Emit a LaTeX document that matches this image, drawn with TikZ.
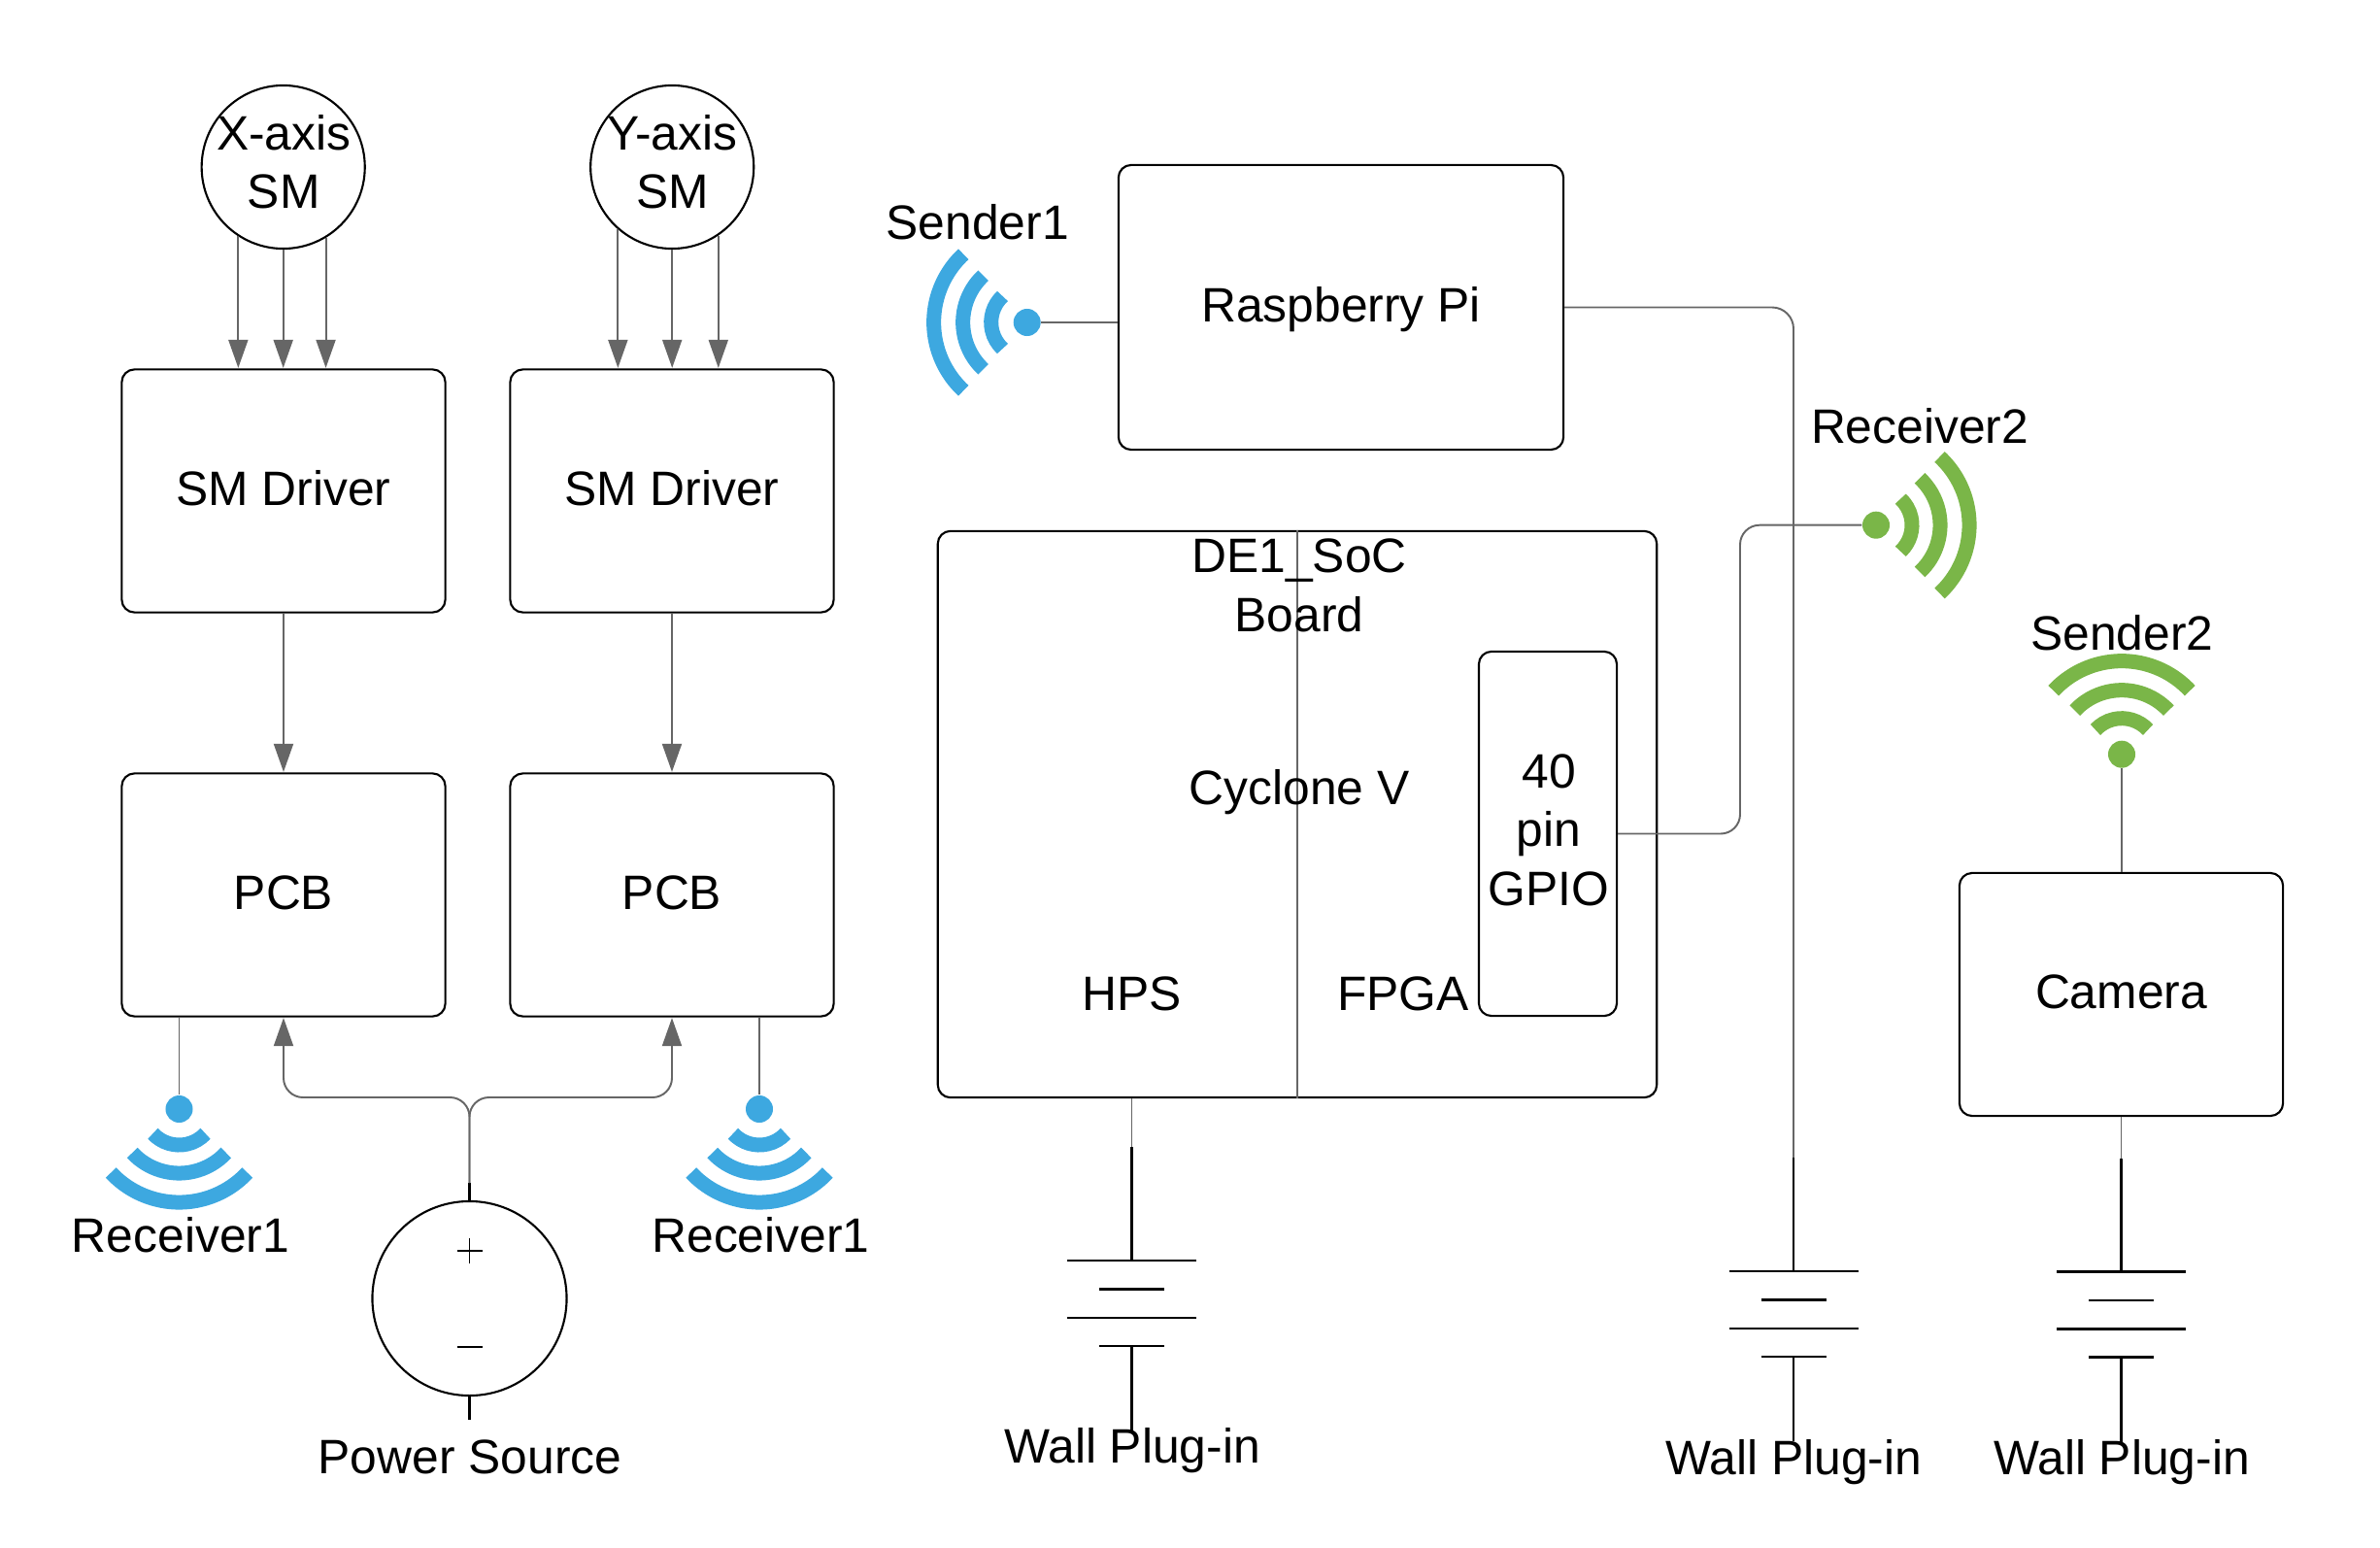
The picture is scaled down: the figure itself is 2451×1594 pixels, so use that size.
\documentclass[tikz,border=0pt]{standalone}
\usepackage{fontspec}
\setmainfont{Liberation Sans}
\usetikzlibrary{arrows.meta,positioning,calc}
\definecolor{wiregray}{HTML}{666666}
\definecolor{wifiblue}{HTML}{3DA8E0}
\definecolor{wifigreen}{HTML}{7AB648}

\begin{document}
\begin{tikzpicture}[x=0.01cm, y=-0.01cm,
    lbl/.style={font=\fontsize{14.15}{17.07}\selectfont, inner sep=0pt, anchor=base, align=center},
    box/.style={rectangle, draw=black, line width=0.6pt, rounded corners=0.13cm, minimum width=3.33cm, minimum height=2.5cm, inner sep=0pt, text height=0.29cm, text depth=0pt, font=\fontsize{14.15}{17.07}\selectfont},
    motor/.style={circle, draw=black, line width=0.6pt, minimum size=1.68cm, inner sep=0pt},
    wifidot/.style={circle, minimum size=0.28cm, inner sep=0pt},
    wire/.style={draw=wiregray, line width=0.55pt},
    arrow/.style={wire, -{Triangle[length=0.29cm, width=0.2cm]}, fill=none, shorten >=0.005cm},
    lead/.style={draw=black, line width=0.6pt},
    plate/.style={draw=black, line width=0.6pt}
]
\useasboundingbox (0,0) rectangle (2451,1594);

% Stepper motors
\node[motor] (xsm) at (291.7,172) {};
\node[lbl] (xsmtext) at (292.3,215) {X-axis\\SM};
\node[motor] (ysm) at (692.2,172) {};
\node[lbl] (ysmtext) at (692.5,215) {Y-axis\\SM};

% Driver and PCB columns
\node[box] (drva) at (292,505.5) {SM Driver};
\node[box] (drvb) at (692,505.5) {SM Driver};
\node[box] (pcba) at (292,921.5) {PCB};
\node[box] (pcbb) at (692,921.5) {PCB};

% Motor to driver arrows
\draw[arrow] (xsm.237) -- (xsm.237 |- drva.north);
\draw[arrow] (xsm.south) -- (xsm.south |- drva.north);
\draw[arrow] (xsm.301) -- (xsm.301 |- drva.north);
\draw[arrow] (ysm.229.4) -- (ysm.229.4 |- drvb.north);
\draw[arrow] (ysm.south) -- (ysm.south |- drvb.north);
\draw[arrow] (ysm.304) -- (ysm.304 |- drvb.north);

\draw[arrow] (drva.south) -- (pcba.north);
\draw[arrow] (drvb.south) -- (pcbb.north);

% Right side boxes
\node[box, minimum width=4.58cm, minimum height=2.93cm] (rpi) at (1381,316.5) {Raspberry Pi};
\node[box] (cam) at (2184.5,1024) {Camera};
\node[box, minimum width=7.4cm, minimum height=5.83cm] (de1) at (1336,838.5) {};
\node[box, minimum width=1.42cm, minimum height=3.75cm] (gpio) at (1594,858.5) {};
\draw[wire] (de1.north) -- (de1.south);

% Board texts
\node[lbl] (de1text) at (1338,650) {DE1\_SoC\\Board};
\node[lbl] (cyclone) at (1338,828.5) {Cyclone V};
\node[lbl] (hps) at (1165.4,1040) {HPS};
\node[lbl] (fpga) at (1445,1040) {FPGA};
\node[lbl] (gpiotext) at (1595,932) {40\\pin\\GPIO};

% Wireless symbols
\foreach \n/\xd/\yd/\ang/\col in {rxa/184.5/1142/270/wifiblue, rxb/782/1142/270/wifiblue, txa/1057.7/332/180/wifiblue, rxc/1932/540.7/0/wifigreen, txb/2185/776.7/90/wifigreen} {
    \node[wifidot, fill=\col] (\n) at (\xd,\yd) {};
    \foreach \r in {0.37,0.66,0.96} {
        \draw[draw=\col, line width=0.15cm] ([shift={(\ang-47:\r cm)}]\n.center) arc[start angle=\ang-47, end angle=\ang+47, radius=\r cm];
    }
}
\node[lbl] (rxatext) at (186,1289.5) {Receiver1};
\node[lbl] (rxbtext) at (783.5,1289.5) {Receiver1};
\node[lbl] (txatext) at (1006.7,247) {Sender1};
\node[lbl] (rxctext) at (1977,456.5) {Receiver2};
\node[lbl] (txbtext) at (2185.5,669) {Sender2};

\draw[wire] (rxa.north |- pcba.south) -- (rxa.north);
\draw[wire] (rxb.north |- pcbb.south) -- (rxb.north);
\draw[wire] (txa.east) -- (txa.east -| rpi.west);
\draw[wire] (txb.south) -- (txb.south |- cam.north);
\coordinate (gpiobend) at (1792,540.7);
\draw[wire, rounded corners=0.2cm] (gpio.east) -| (gpiobend) -- (rxc.west);

% Power source
\node[circle, draw=black, line width=0.6pt, minimum size=2cm, inner sep=0pt] (ps) at (483.5,1337) {};
\node[lbl] (pstext) at (484,1517.5) {Power Source};
\coordinate (pstop) at (483.5,1218);
\coordinate (psbot) at (483.5,1462);
\coordinate (psfork) at (483.5,1130);
\draw[lead] (pstop) -- (ps.north);
\draw[lead] (ps.south) -- (psbot);
\draw[arrow, rounded corners=0.2cm] (pstop) -- (psfork) -| (pcba.south);
\draw[arrow, rounded corners=0.2cm] (pstop) -- (psfork) -| (pcbb.south);
\draw[line width=0.4pt] (470.5,1288) -- (496.5,1288) (483.5,1275) -- (483.5,1301);
\draw[line width=0.4pt] (470.5,1387) -- (496.5,1387);

% Wall plug-in batteries
\foreach \n/\xb/\yb/\yt in {a/1165.5/1298/1506, b/1847/1309/1518, c/2184.5/1309.5/1518} {
    \coordinate (bat\n) at (\xb,\yb);
    \coordinate (batend\n) at (\xb,\yb+175);
    \draw[plate] (\xb-66.5,\yb) -- (\xb+66.5,\yb);
    \draw[plate] (\xb-33.5,\yb+29.5) -- (\xb+33.5,\yb+29.5);
    \draw[plate] (\xb-66.5,\yb+59) -- (\xb+66.5,\yb+59);
    \draw[plate] (\xb-33.5,\yb+88) -- (\xb+33.5,\yb+88);
    \draw[lead] (\xb,\yb+88) -- (batend\n);
    \node[lbl] (plug\n) at (\xb+0.5,\yt) {Wall Plug-in};
}
\coordinate (hpsjoin) at (1165.5,1181);
\coordinate (rpijoin) at (1847,1192);
\coordinate (camjoin) at (2184.5,1193);
\draw[wire] (hpsjoin |- de1.south) -- (hpsjoin);
\draw[lead] (hpsjoin) -- (bata);
\draw[wire, rounded corners=0.22cm] (rpi.east) -| (rpijoin);
\draw[lead] (rpijoin) -- (batb);
\draw[wire] (camjoin |- cam.south) -- (camjoin);
\draw[lead] (camjoin) -- (batc);

\end{tikzpicture}
\end{document}
